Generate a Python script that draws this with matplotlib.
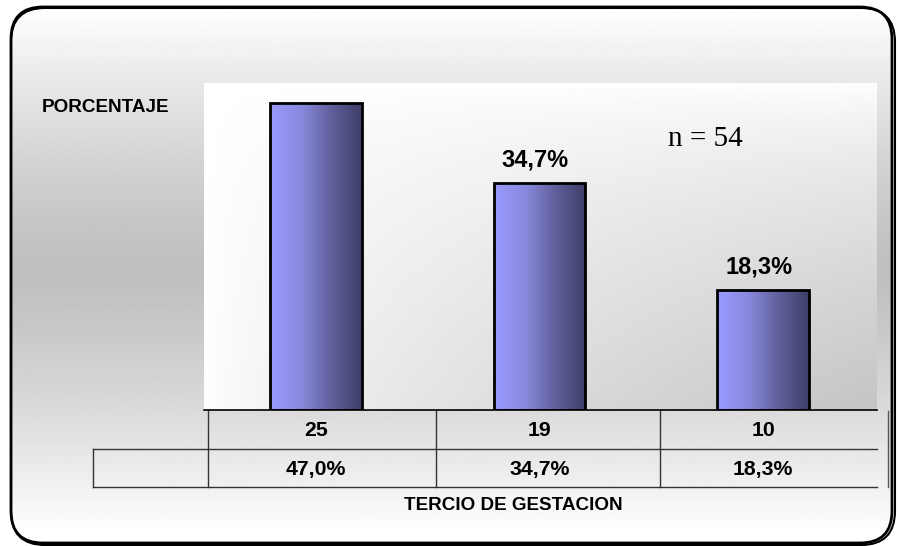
import numpy as np
import matplotlib
matplotlib.use("Agg")
import matplotlib.pyplot as plt
from matplotlib.patches import FancyBboxPatch, Rectangle
from matplotlib.colors import LinearSegmentedColormap

# data
tercios = ["I", "II", "III"]
casos = [25, 19, 10]
porcentajes = [47.0, 34.7, 18.3]
etiquetas_pct = ["47,0%", "34,7%", "18,3%"]
n_total = 54

W, H = 899, 546
fig = plt.figure(figsize=(W / 100, H / 100), dpi=100)
fig.patch.set_facecolor("white")

# full-figure axes in pixel coordinates for the frame and the table
bg = fig.add_axes([0, 0, 1, 1], zorder=0)
bg.set_xlim(0, W)
bg.set_ylim(H, 0)
bg.axis("off")

yy = np.linspace(0, 1, 300)[:, None]
d = np.clip(np.abs(yy - 0.49) / 0.49, 0, 1)
grey = 0.75 + 0.25 * d ** 1.3
img = np.repeat(grey, 2, axis=1)
im = bg.imshow(img, cmap="gray", vmin=0, vmax=1, extent=(10, 894, 544, 7),
               aspect="auto", interpolation="bilinear", zorder=0)
frame = FancyBboxPatch((11, 7), 881, 536, boxstyle="round,pad=0,rounding_size=32",
                       fc="none", ec="black", lw=2.0, zorder=3)
shadow = FancyBboxPatch((11, 8), 884, 537, boxstyle="round,pad=0,rounding_size=34",
                        fc="none", ec="black", lw=1.5, zorder=3)
bg.add_patch(frame)
bg.add_patch(shadow)
im.set_clip_path(frame)

# table lines
lk = dict(color="#333333", lw=1.0, zorder=2)
bg.plot([93, 877], [449, 449], **lk)
bg.plot([93, 877], [487, 487], **lk)
bg.plot([93, 93], [449, 487], **lk)
for xv in [208, 436, 660]:
    bg.plot([xv, xv], [410, 487], **lk)
bg.plot([888, 888], [411, 487], color="#555555", lw=1.0, zorder=2)

bold = dict(family="Liberation Sans", weight="bold", color="black")
bg.text(42, 107, "PORCENTAJE", fontsize=13.6, ha="left", va="center", **bold)
bg.text(513, 505, "TERCIO DE GESTACION", fontsize=13.6, ha="center", va="center", **bold)

# bar axes
ax = fig.add_axes([204 / W, 1 - 410 / H, 673 / W, 327 / H], zorder=1)
x = np.arange(len(tercios))
ax.set_xlim(-0.501, 2.51)
ax.set_ylim(0, 50)

gx, gy = np.meshgrid(np.linspace(0, 1, 200), np.linspace(0, 1, 200))
shade = 1 - 0.23 * (gx * gy) ** 0.7
ax.imshow(shade, cmap="gray", vmin=0, vmax=1, extent=(0, 1, 0, 1),
          transform=ax.transAxes, aspect="auto", interpolation="bilinear", zorder=0)

cmap = LinearSegmentedColormap.from_list(
    "bar", [(0, "#9a9aff"), (0.35, "#8888dc"), (0.65, "#62629f"), (1, "#3f3f68")])
grad = np.linspace(0, 1, 100)[None, :]
bw = 0.41
for xi, val in zip(x, porcentajes):
    rect = Rectangle((xi - bw / 2, 0), bw, val, fc="none", ec="black", lw=2.0, zorder=3)
    ax.add_patch(rect)
    bim = ax.imshow(grad, cmap=cmap, extent=(xi - bw / 2, xi + bw / 2, 0, val),
                    aspect="auto", interpolation="bilinear", zorder=2)
    bim.set_clip_path(rect)

for xi, val, lab in zip(x, porcentajes, etiquetas_pct):
    if val < 45:
        ax.annotate(lab, (xi, val), xytext=(-3, 16.5), textcoords="offset points",
                    ha="center", va="center", fontsize=17, **bold)

ax.set_xlim(-0.501, 2.51)
ax.set_ylim(0, 50)
ax.set_xticks([])
ax.set_yticks([])
for s in ["left", "top", "right"]:
    ax.spines[s].set_visible(False)
ax.spines["bottom"].set_color("black")
ax.spines["bottom"].set_linewidth(1.2)

ax.text(0.69, 0.83, f"n = {n_total}", transform=ax.transAxes, fontsize=21,
        family="Liberation Serif", ha="left", va="center")

# table values under each bar
tr = ax.get_xaxis_transform()
for xi, c, lab in zip(x, casos, etiquetas_pct):
    ax.text(xi, -20 / 327, str(c), transform=tr, fontsize=15.3, ha="center",
            va="center", clip_on=False, **bold)
    ax.text(xi, -59 / 327, lab, transform=tr, fontsize=15.3, ha="center",
            va="center", clip_on=False, **bold)

fig.savefig("out.png", dpi=100)
